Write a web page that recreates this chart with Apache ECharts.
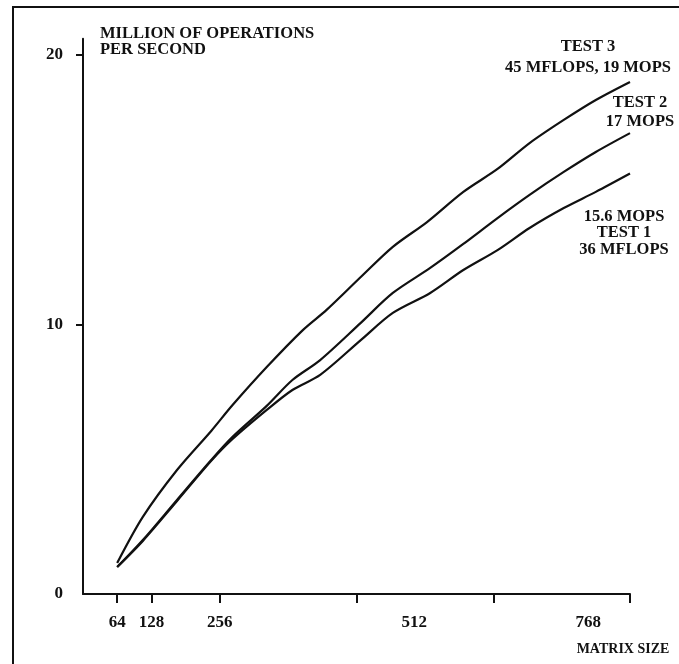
<!DOCTYPE html>
<html>
<head>
<meta charset="utf-8">
<script src="https://cdn.jsdelivr.net/npm/echarts@6/dist/echarts.min.js"></script>
<style>
html,body{margin:0;padding:0;background:#fff;}
#chart{width:679px;height:664px;}
</style>
</head>
<body>
<div id="chart"></div>
<script>
// ---- data ----
var test3X = [64,112,176,240,280,344,412,456,520,580,644,712,776,836,900,960,1024];
var test3Y = [1.15,2.86,4.60,6.05,7.01,8.42,9.80,10.54,11.76,12.88,13.80,14.92,15.77,16.73,17.59,18.33,19.0];
var test2X = [64,112,176,240,280,344,392,444,520,580,650,712,776,836,900,960,1024];
var test2Y = [1.0,2.0,3.49,4.97,5.83,6.98,7.94,8.68,10.06,11.17,12.10,12.99,13.95,14.81,15.66,16.40,17.1];
var test1X = [64,112,176,240,280,344,392,444,520,580,650,712,776,836,900,960,1024];
var test1Y = [1.0,1.97,3.45,4.94,5.75,6.83,7.57,8.13,9.42,10.43,11.17,12.02,12.76,13.58,14.32,14.92,15.6];

var xTickValues = [64,128,256,512,768,1024];
var xLabelValues = [64,128,256,620,946];
var xLabelTexts = ['64','128','256','512','768'];
var yTickValues = [0,10,20];

var yTitle = ['MILLION OF OPERATIONS','PER SECOND'];
var xTitle = 'MATRIX SIZE';
var test3Label = ['TEST 3','45 MFLOPS, 19 MOPS'];
var test2Label = ['TEST 2','17 MOPS'];
var test1Label = ['15.6 MOPS','TEST 1','36 MFLOPS'];

function pairs(xs, ys){ return xs.map(function(x,i){ return [x, ys[i]]; }); }

var FONT = '"Liberation Serif","DejaVu Serif",serif';
var INK = '#111';

var chart = echarts.init(document.getElementById('chart'), null, {renderer:'canvas'});

var lineStyle = {color: INK, width: 2.2};
function mkSeries(name, xs, ys){
  return {
    name: name, type: 'line', data: pairs(xs, ys),
    showSymbol: false, symbol: 'none', smooth: 0.3,
    lineStyle: lineStyle, silent: true, animation: false
  };
}

var labelMap = {};
xLabelValues.forEach(function(v,i){ labelMap[v] = xLabelTexts[i]; });

chart.setOption({
  animation: false,
  backgroundColor: '#fff',
  grid: {left: 83, right: 49, top: 38.8, bottom: 70, containLabel: false},
  xAxis: {
    type: 'value', min: 0, max: 1024,
    axisLine: {show: true, lineStyle: {color: INK, width: 2}},
    axisTick: {show: true, inside: false, length: 9, customValues: xTickValues, lineStyle: {color: INK, width: 2}},
    axisLabel: {
      show: true, customValues: xLabelValues, margin: 20,
      formatter: function(v){ return labelMap[v] !== undefined ? labelMap[v] : ''; },
      fontFamily: FONT, fontSize: 17, fontWeight: 'bold', color: INK
    },
    splitLine: {show: false}
  },
  yAxis: {
    type: 'value', min: 0, max: 20.6,
    axisLine: {show: true, lineStyle: {color: INK, width: 2}},
    axisTick: {show: true, length: 7, customValues: [10,20], lineStyle: {color: INK, width: 2}},
    axisLabel: {
      show: true, customValues: yTickValues, margin: 20,
      fontFamily: FONT, fontSize: 17, fontWeight: 'bold', color: INK
    },
    splitLine: {show: false}
  },
  series: [
    mkSeries('TEST 3', test3X, test3Y),
    mkSeries('TEST 2', test2X, test2Y),
    mkSeries('TEST 1', test1X, test1Y)
  ],
  graphic: [
    {type: 'polyline', shape: {points: [[13,700],[13,7],[700,7]]}, style: {stroke: INK, lineWidth: 2, fill: null}, silent: true},
    {type: 'text', left: 100, top: 25, style: {text: yTitle.join('\n'), font: 'bold 16.5px ' + FONT, fill: INK, lineHeight: 16.5}},
    {type: 'text', x: 623, y: 642, style: {text: xTitle, font: 'bold 14px ' + FONT, fill: INK, textAlign: 'center'}},
    {type: 'text', x: 588, y: 36, style: {text: test3Label.join('\n'), font: 'bold 16.5px ' + FONT, fill: INK, textAlign: 'center', lineHeight: 21}},
    {type: 'text', x: 640, y: 93, style: {text: test2Label.join('\n'), font: 'bold 16.5px ' + FONT, fill: INK, textAlign: 'center', lineHeight: 19}},
    {type: 'text', x: 624, y: 208, style: {text: test1Label.join('\n'), font: 'bold 16.5px ' + FONT, fill: INK, textAlign: 'center', lineHeight: 16.5}}
  ]
});
</script>
</body>
</html>
